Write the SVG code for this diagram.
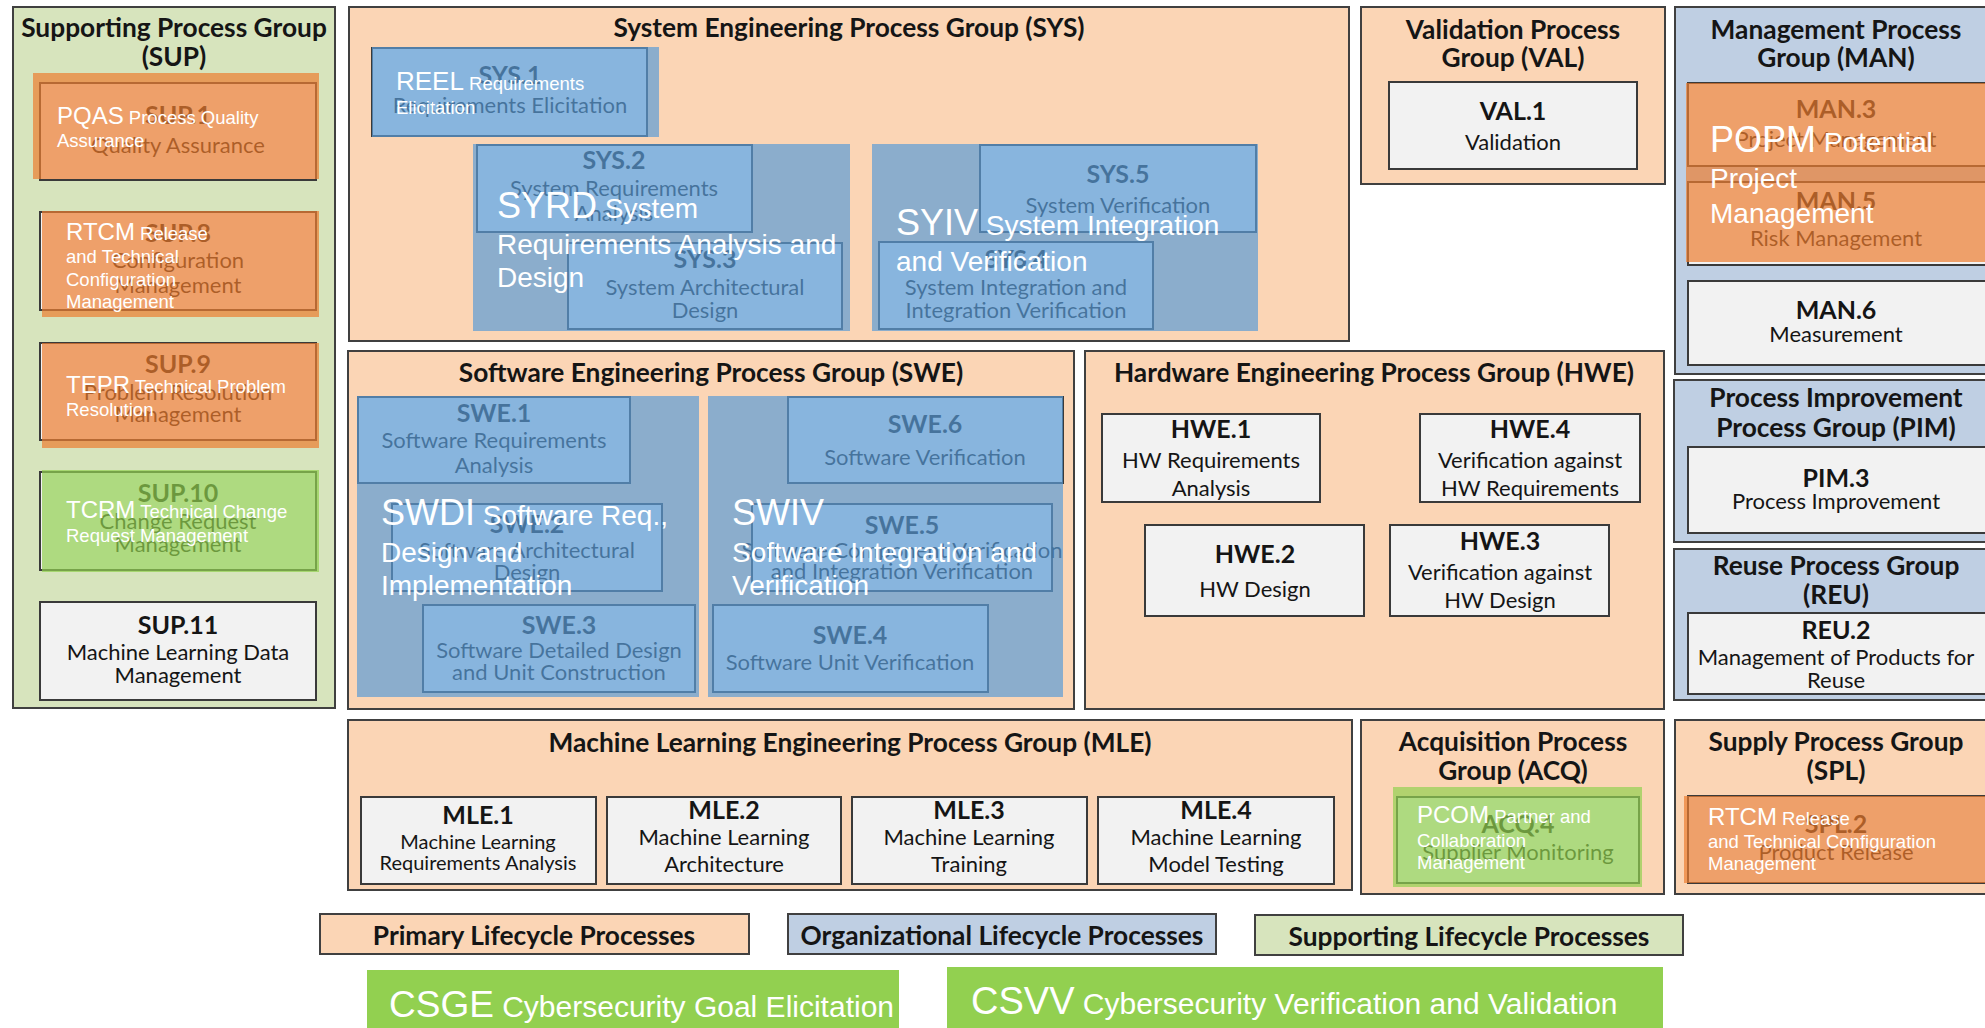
<svg xmlns="http://www.w3.org/2000/svg" width="1985" height="1028" viewBox="0 0 1985 1028">
  <style>
    .gp { fill: #FBD5B5; stroke: #404040; stroke-width: 2; }
    .go { fill: #BFCFE3; stroke: #404040; stroke-width: 2; }
    .gs { fill: #D7E4BD; stroke: #404040; stroke-width: 2; }
    .box { fill: #F2F2F2; stroke: #3A3A3A; stroke-width: 2; }
    .leg { stroke: #404040; stroke-width: 2; }
    text { font-family: Lato, "Liberation Sans", sans-serif; fill: #151515; text-anchor: middle; }
    .ttl { font-weight: 700; font-size: 26.3px; }
    .id { font-weight: 700; font-size: 25px; }
    .ds { font-size: 22px; }
    .dss { font-size: 20px; }
    .ov-b { fill: #5B9BD5; opacity: 0.7; }
    .ov-o { fill: #ED7D31; opacity: 0.7; }
    .ov-g { fill: #92D050; opacity: 0.7; }
    .cs { fill: #92D050; }
    text.wt { font-family: "Liberation Sans", Arial, sans-serif; fill: #FFFFFF; text-anchor: start; }
    .wb { font-size: 24px; }
    .ws { font-size: 18.5px; }
    .wB { font-size: 36px; }
    .wS { font-size: 28px; }
  </style>

  <!-- process groups -->
  <g id="grp-sup">
    <rect class="gs" x="13" y="7" width="322" height="701"/>
    <text class="ttl" x="174" y="37">Supporting Process Group</text>
    <text class="ttl" x="174" y="66">(SUP)</text>
  </g>
  <g id="grp-sys">
    <rect class="gp" x="349" y="7" width="1000" height="334"/>
    <text class="ttl" x="849" y="37">System Engineering Process Group (SYS)</text>
  </g>
  <g id="grp-val">
    <rect class="gp" x="1361" y="7" width="304" height="177"/>
    <text class="ttl" x="1513" y="39">Validation Process</text>
    <text class="ttl" x="1513" y="67">Group (VAL)</text>
  </g>
  <g id="grp-man">
    <rect class="go" x="1675" y="7" width="322" height="367"/>
    <text class="ttl" x="1836" y="39">Management Process</text>
    <text class="ttl" x="1836" y="67">Group (MAN)</text>
  </g>
  <g id="grp-swe">
    <rect class="gp" x="348" y="351" width="726" height="358"/>
    <text class="ttl" x="711" y="382">Software Engineering Process Group (SWE)</text>
  </g>
  <g id="grp-hwe">
    <rect class="gp" x="1085" y="351" width="579" height="358"/>
    <text class="ttl" x="1374" y="382">Hardware Engineering Process Group (HWE)</text>
  </g>
  <g id="grp-pim">
    <rect class="go" x="1674" y="380" width="323" height="162"/>
    <text class="ttl" x="1836" y="407">Process Improvement</text>
    <text class="ttl" x="1836" y="437">Process Group (PIM)</text>
  </g>
  <g id="grp-reu">
    <rect class="go" x="1674" y="549" width="323" height="151"/>
    <text class="ttl" x="1836" y="575">Reuse Process Group</text>
    <text class="ttl" x="1836" y="604">(REU)</text>
  </g>
  <g id="grp-mle">
    <rect class="gp" x="348" y="720" width="1004" height="170"/>
    <text class="ttl" x="850" y="752">Machine Learning Engineering Process Group (MLE)</text>
  </g>
  <g id="grp-acq">
    <rect class="gp" x="1361" y="720" width="303" height="174"/>
    <text class="ttl" x="1513" y="751">Acquisition Process</text>
    <text class="ttl" x="1513" y="780">Group (ACQ)</text>
  </g>
  <g id="grp-spl">
    <rect class="gp" x="1675" y="720" width="322" height="174"/>
    <text class="ttl" x="1836" y="751">Supply Process Group</text>
    <text class="ttl" x="1836" y="780">(SPL)</text>
  </g>

  <!-- SUP processes -->
  <g id="sup1">
    <rect class="box" x="40" y="83" width="276" height="97"/>
    <text class="id" x="178" y="124">SUP.1</text>
    <text class="ds" x="178" y="153">Quality Assurance</text>
  </g>
  <g id="sup8">
    <rect class="box" x="40" y="212" width="276" height="98"/>
    <text class="id" x="178" y="242">SUP.8</text>
    <text class="ds" x="178" y="268">Configuration</text>
    <text class="ds" x="178" y="293">Management</text>
  </g>
  <g id="sup9">
    <rect class="box" x="40" y="343" width="276" height="97"/>
    <text class="id" x="178" y="373">SUP.9</text>
    <text class="ds" x="178" y="400">Problem Resolution</text>
    <text class="ds" x="178" y="422">Management</text>
  </g>
  <g id="sup10">
    <rect class="box" x="40" y="472" width="276" height="98"/>
    <text class="id" x="178" y="502">SUP.10</text>
    <text class="ds" x="178" y="529">Change Request</text>
    <text class="ds" x="178" y="552">Management</text>
  </g>
  <g id="sup11">
    <rect class="box" x="40" y="602" width="276" height="98"/>
    <text class="id" x="178" y="634">SUP.11</text>
    <text class="ds" x="178" y="660">Machine Learning Data</text>
    <text class="ds" x="178" y="683">Management</text>
  </g>

  <!-- SYS processes -->
  <g id="sys1">
    <rect class="box" x="372" y="48" width="275" height="88"/>
    <text class="id" x="510" y="84">SYS.1</text>
    <text class="ds" x="510" y="113">Requirements Elicitation</text>
  </g>
  <g id="sys2">
    <rect class="box" x="477" y="145" width="275" height="87"/>
    <text class="id" x="614" y="169">SYS.2</text>
    <text class="ds" x="614" y="196">System Requirements</text>
    <text class="ds" x="614" y="221">Analysis</text>
  </g>
  <g id="sys3">
    <rect class="box" x="568" y="243" width="274" height="86"/>
    <text class="id" x="705" y="268">SYS.3</text>
    <text class="ds" x="705" y="295">System Architectural</text>
    <text class="ds" x="705" y="318">Design</text>
  </g>
  <g id="sys5">
    <rect class="box" x="980" y="145" width="276" height="87"/>
    <text class="id" x="1118" y="183">SYS.5</text>
    <text class="ds" x="1118" y="213">System Verification</text>
  </g>
  <g id="sys4">
    <rect class="box" x="879" y="242" width="274" height="87"/>
    <text class="id" x="1016" y="268">SYS.4</text>
    <text class="ds" x="1016" y="295">System Integration and</text>
    <text class="ds" x="1016" y="318">Integration Verification</text>
  </g>

  <!-- VAL / MAN / PIM / REU processes -->
  <g id="val1">
    <rect class="box" x="1389" y="82" width="248" height="87"/>
    <text class="id" x="1513" y="120">VAL.1</text>
    <text class="ds" x="1513" y="150">Validation</text>
  </g>
  <g id="man3">
    <rect class="box" x="1688" y="83" width="302" height="83"/>
    <text class="id" x="1836" y="118">MAN.3</text>
    <text class="ds" x="1836" y="147">Project Management</text>
  </g>
  <g id="man5">
    <rect class="box" x="1688" y="182" width="302" height="83"/>
    <text class="id" x="1836" y="210">MAN.5</text>
    <text class="ds" x="1836" y="246">Risk Management</text>
  </g>
  <g id="man6">
    <rect class="box" x="1688" y="281" width="302" height="84"/>
    <text class="id" x="1836" y="319">MAN.6</text>
    <text class="ds" x="1836" y="342">Measurement</text>
  </g>
  <g id="pim3">
    <rect class="box" x="1688" y="447" width="302" height="86"/>
    <text class="id" x="1836" y="487">PIM.3</text>
    <text class="ds" x="1836" y="509">Process Improvement</text>
  </g>
  <g id="reu2">
    <rect class="box" x="1688" y="613" width="302" height="81"/>
    <text class="id" x="1836" y="639">REU.2</text>
    <text class="ds" x="1836" y="665">Management of Products for</text>
    <text class="ds" x="1836" y="688">Reuse</text>
  </g>

  <!-- SWE processes -->
  <g id="swe1">
    <rect class="box" x="358" y="397" width="272" height="86"/>
    <text class="id" x="494" y="422">SWE.1</text>
    <text class="ds" x="494" y="448">Software Requirements</text>
    <text class="ds" x="494" y="473">Analysis</text>
  </g>
  <g id="swe2">
    <rect class="box" x="392" y="504" width="270" height="87"/>
    <text class="id" x="527" y="533">SWE.2</text>
    <text class="ds" x="527" y="558">Software Architectural</text>
    <text class="ds" x="527" y="580">Design</text>
  </g>
  <g id="swe3">
    <rect class="box" x="423" y="605" width="272" height="87"/>
    <text class="id" x="559" y="634">SWE.3</text>
    <text class="ds" x="559" y="658">Software Detailed Design</text>
    <text class="ds" x="559" y="680">and Unit Construction</text>
  </g>
  <g id="swe6">
    <rect class="box" x="788" y="397" width="275" height="86"/>
    <text class="id" x="925" y="433">SWE.6</text>
    <text class="ds" x="925" y="465">Software Verification</text>
  </g>
  <g id="swe5">
    <rect class="box" x="752" y="504" width="300" height="87"/>
    <text class="id" x="902" y="534">SWE.5</text>
    <text class="ds" x="902" y="558">Software Component Verification</text>
    <text class="ds" x="902" y="579">and Integration Verification</text>
  </g>
  <g id="swe4">
    <rect class="box" x="713" y="605" width="275" height="87"/>
    <text class="id" x="850" y="644">SWE.4</text>
    <text class="ds" x="850" y="670">Software Unit Verification</text>
  </g>

  <!-- HWE processes -->
  <g id="hwe1">
    <rect class="box" x="1102" y="414" width="218" height="88"/>
    <text class="id" x="1211" y="438">HWE.1</text>
    <text class="ds" x="1211" y="468">HW Requirements</text>
    <text class="ds" x="1211" y="496">Analysis</text>
  </g>
  <g id="hwe4">
    <rect class="box" x="1420" y="414" width="220" height="88"/>
    <text class="id" x="1530" y="438">HWE.4</text>
    <text class="ds" x="1530" y="468">Verification against</text>
    <text class="ds" x="1530" y="496">HW Requirements</text>
  </g>
  <g id="hwe2">
    <rect class="box" x="1145" y="525" width="219" height="91"/>
    <text class="id" x="1255" y="563">HWE.2</text>
    <text class="ds" x="1255" y="597">HW Design</text>
  </g>
  <g id="hwe3">
    <rect class="box" x="1390" y="525" width="219" height="91"/>
    <text class="id" x="1500" y="550">HWE.3</text>
    <text class="ds" x="1500" y="580">Verification against</text>
    <text class="ds" x="1500" y="608">HW Design</text>
  </g>

  <!-- MLE processes -->
  <g id="mle1">
    <rect class="box" x="361" y="797" width="235" height="87"/>
    <text class="id" x="478" y="824">MLE.1</text>
    <text class="dss" x="478" y="849">Machine Learning</text>
    <text class="dss" x="478" y="870">Requirements Analysis</text>
  </g>
  <g id="mle2">
    <rect class="box" x="607" y="797" width="234" height="87"/>
    <text class="id" x="724" y="819">MLE.2</text>
    <text class="ds" x="724" y="845">Machine Learning</text>
    <text class="ds" x="724" y="872">Architecture</text>
  </g>
  <g id="mle3">
    <rect class="box" x="852" y="797" width="235" height="87"/>
    <text class="id" x="969" y="819">MLE.3</text>
    <text class="ds" x="969" y="845">Machine Learning</text>
    <text class="ds" x="969" y="872">Training</text>
  </g>
  <g id="mle4">
    <rect class="box" x="1098" y="797" width="236" height="87"/>
    <text class="id" x="1216" y="819">MLE.4</text>
    <text class="ds" x="1216" y="845">Machine Learning</text>
    <text class="ds" x="1216" y="872">Model Testing</text>
  </g>

  <!-- ACQ / SPL processes -->
  <g id="acq4">
    <rect class="box" x="1397" y="797" width="242" height="86"/>
    <text class="id" x="1518" y="833">ACQ.4</text>
    <text class="ds" x="1518" y="860">Supplier Monitoring</text>
  </g>
  <g id="spl2">
    <rect class="box" x="1688" y="796" width="302" height="87"/>
    <text class="id" x="1836" y="833">SPL.2</text>
    <text class="ds" x="1836" y="860">Product Release</text>
  </g>

  <!-- highlight areas with their short names -->
  <g id="pqas">
    <rect class="ov-o" x="33" y="73" width="286" height="106"/>
    <text class="wt" x="57" y="124"><tspan class="wb">PQAS</tspan><tspan class="ws"> Process Quality</tspan><tspan class="ws" x="57" y="147">Assurance</tspan></text>
  </g>
  <g id="rtcm-sup">
    <rect class="ov-o" x="42" y="211" width="277" height="106"/>
    <text class="wt" x="66" y="240"><tspan class="wb">RTCM</tspan><tspan class="ws"> Release</tspan><tspan class="ws" x="66" y="263">and Technical</tspan><tspan class="ws" x="66" y="286">Configuration</tspan><tspan class="ws" x="66" y="308">Management</tspan></text>
  </g>
  <g id="tepr">
    <rect class="ov-o" x="42" y="343" width="277" height="105"/>
    <text class="wt" x="66" y="393"><tspan class="wb">TEPR</tspan><tspan class="ws"> Technical Problem</tspan><tspan class="ws" x="66" y="416">Resolution</tspan></text>
  </g>
  <g id="tcrm">
    <rect class="ov-g" x="42" y="470" width="277" height="102"/>
    <text class="wt" x="66" y="518"><tspan class="wb">TCRM</tspan><tspan class="ws"> Technical Change</tspan><tspan class="ws" x="66" y="542">Request Management</tspan></text>
  </g>
  <g id="reel">
    <rect class="ov-b" x="372" y="47" width="287" height="90"/>
    <text class="wt" x="396" y="90"><tspan style="font-size:26px">REEL</tspan><tspan class="ws"> Requirements</tspan><tspan class="ws" x="396" y="114">Elicitation</tspan></text>
  </g>
  <g id="syrd">
    <rect class="ov-b" x="473" y="144" width="377" height="187"/>
    <text class="wt" x="497" y="218"><tspan class="wB">SYRD</tspan><tspan class="wS"> System</tspan><tspan class="wS" x="497" y="254">Requirements Analysis and</tspan><tspan class="wS" x="497" y="287">Design</tspan></text>
  </g>
  <g id="syiv">
    <rect class="ov-b" x="872" y="144" width="386" height="187"/>
    <text class="wt" x="896" y="235"><tspan class="wB">SYIV</tspan><tspan class="wS"> System Integration</tspan><tspan class="wS" x="896" y="271">and Verification</tspan></text>
  </g>
  <g id="popm">
    <rect class="ov-o" x="1686" y="83" width="304" height="179"/>
    <text class="wt" x="1710" y="152"><tspan class="wB">POPM</tspan><tspan class="wS"> Potential</tspan><tspan class="wS" x="1710" y="188">Project</tspan><tspan class="wS" x="1710" y="223">Management</tspan></text>
  </g>
  <g id="swdi">
    <rect class="ov-b" x="357" y="396" width="342" height="301"/>
    <text class="wt" x="381" y="525"><tspan class="wB">SWDI</tspan><tspan class="wS"> Software Req.,</tspan><tspan class="wS" x="381" y="562">Design and</tspan><tspan class="wS" x="381" y="595">Implementation</tspan></text>
  </g>
  <g id="swiv">
    <rect class="ov-b" x="708" y="396" width="355" height="301"/>
    <text class="wt" x="732" y="525"><tspan class="wB">SWIV</tspan><tspan class="wS" x="732" y="562">Software Integration and</tspan><tspan class="wS" x="732" y="595">Verification</tspan></text>
  </g>
  <g id="pcom">
    <rect class="ov-g" x="1393" y="787" width="249" height="100"/>
    <text class="wt" x="1417" y="823"><tspan class="wb">PCOM</tspan><tspan class="ws"> Partner and</tspan><tspan class="ws" x="1417" y="847">Collaboration</tspan><tspan class="ws" x="1417" y="869">Management</tspan></text>
  </g>
  <g id="rtcm-spl">
    <rect class="ov-o" x="1684" y="796" width="306" height="87"/>
    <text class="wt" x="1708" y="825"><tspan class="wb">RTCM</tspan><tspan class="ws"> Release</tspan><tspan class="ws" x="1708" y="848">and Technical Configuration</tspan><tspan class="ws" x="1708" y="870">Management</tspan></text>
  </g>

  <!-- legend -->
  <g id="legend-primary">
    <rect class="leg" fill="#FBD5B5" x="320" y="914" width="429" height="40"/>
    <text class="ttl" x="534" y="945">Primary Lifecycle Processes</text>
  </g>
  <g id="legend-organizational">
    <rect class="leg" fill="#BFCFE3" x="788" y="914" width="428" height="40"/>
    <text class="ttl" x="1002" y="945">Organizational Lifecycle Processes</text>
  </g>
  <g id="legend-supporting">
    <rect class="leg" fill="#D7E4BD" x="1255" y="915" width="428" height="40"/>
    <text class="ttl" x="1469" y="946">Supporting Lifecycle Processes</text>
  </g>

  <!-- cybersecurity processes -->
  <g id="csge">
    <rect class="cs" x="367" y="970" width="532" height="62"/>
    <text class="wt" x="389" y="1017"><tspan style="font-size:37px">CSGE</tspan><tspan style="font-size:30px"> Cybersecurity Goal Elicitation</tspan></text>
  </g>
  <g id="csvv">
    <rect class="cs" x="947" y="967" width="716" height="65"/>
    <text class="wt" x="971" y="1014"><tspan style="font-size:38px">CSVV</tspan><tspan style="font-size:30px"> Cybersecurity Verification and Validation</tspan></text>
  </g>

  <g id="connectors"/>
</svg>
